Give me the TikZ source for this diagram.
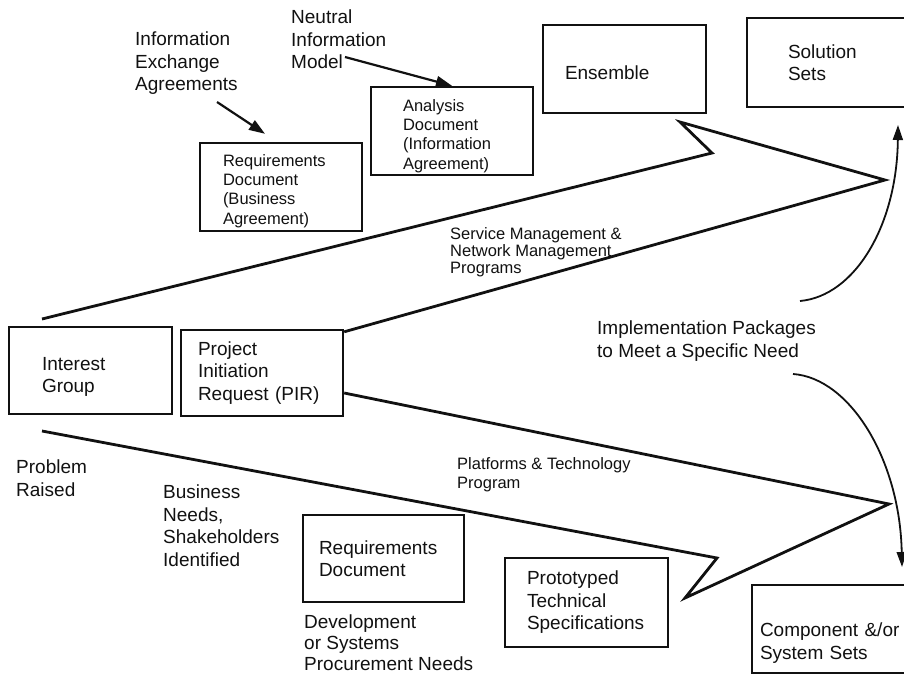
\documentclass[tikz,border=0pt]{standalone}
\usepackage{fontspec}
\setmainfont{Liberation Sans}
\usepackage{xcolor}
\usepackage{tikz}
\usetikzlibrary{arrows.meta, calc, positioning}
\definecolor{Ink}{HTML}{111111}
\newcommand{\bigtxt}{\fontsize{19}{22.5}\selectfont}
\newcommand{\smalltxt}{\fontsize{16.5}{19.3}\selectfont}
\newcommand{\lift}[1]{\rule{0pt}{#1}}
\tikzset{
  box/.style={draw=Ink, line width=2.4pt, minimum height=88pt, align=left, text=Ink, font=\bigtxt, inner ysep=0pt},
  smallbox/.style={box, font=\smalltxt},
  note/.style={text=Ink, font=\bigtxt, align=left, anchor=north west, inner sep=0pt},
  smallnote/.style={note, font=\smalltxt},
  flow/.style={draw=Ink, line width=2.8pt, line join=miter},
  curvearrow/.style={-{Triangle[length=15pt, width=10pt]}, line width=1.8pt, color=Ink},
  ptr/.style={-{Triangle[length=16pt, width=11pt]}, line width=2.2pt, color=Ink},
}

\begin{document}
\begin{tikzpicture}[x=1pt, y=-1pt]
  \useasboundingbox (0,0) rectangle (904,677);

  % Boxes along the top
  \node[smallbox, minimum width=162pt, text width=116pt, inner xsep=23pt] (reqbiz) at (281,187)
    {\lift{20pt}Requirements\\Document\\(Business\\Agreement)};
  \node[smallbox, minimum width=162pt, text width=98pt, inner xsep=32pt] (analysis) at (452,131)
    {\lift{22pt}Analysis\\Document\\(Information\\Agreement)};
  \node[box, minimum width=163pt, text width=119pt, inner xsep=22pt] (ensemble) at (624.5,69)
    {\lift{22pt}Ensemble};
  \node[box, minimum width=163pt, minimum height=89pt, text width=81pt, inner xsep=41pt] (solution) at (828.5,62.5)
    {Solution\\Sets};

  % Boxes on the left
  \node[box, minimum width=163pt, minimum height=87pt, text width=97pt, inner xsep=33pt] (interest) at (90.5,370.5)
    {\lift{26pt}Interest\\Group};
  \node[box, minimum width=162pt, minimum height=86pt, text width=128pt, inner xsep=17pt] (pir) at (262,373)
    {Project\\Initiation\\Request (PIR)};

  % Boxes along the bottom
  \node[box, minimum width=161pt, minimum height=87pt, text width=129pt, inner xsep=16pt] (reqdoc) at (383.5,558.5)
    {Requirements\\Document};
  \node[box, minimum width=163pt, minimum height=89pt, text width=119pt, inner xsep=22pt] (proto) at (586.5,602.5)
    {Prototyped\\Technical\\Specifications};
  \node[box, minimum width=163pt, text width=147pt, inner xsep=8pt] (component) at (833.5,629)
    {\lift{42pt}Component \&/or\\System Sets};

  % Free text
  \node[note] (infoexch) at (135,32) {Information\\Exchange\\Agreements};
  \node[note] (neutral) at (291,10) {Neutral\\Information\\Model};
  \node[smallnote, font=\fontsize{16.5}{17}\selectfont] (svcmgmt) at (450,227) {Service Management \&\\Network Management\\Programs};
  \node[note] (implpkg) at (597,321) {Implementation Packages\\to Meet a Specific Need};
  \node[smallnote] (platforms) at (457,457) {Platforms \& Technology\\Program};
  \node[note] (problem) at (16,460) {Problem\\Raised};
  \node[note] (business) at (163,485) {Business\\Needs,\\Shakeholders\\Identified};
  \node[note, font=\fontsize{19}{21}\selectfont] (devneeds) at (304,615) {Development\\or Systems\\Procurement Needs};

  % Upper broad arrow
  \coordinate (upstart) at (42,319);
  \coordinate (upnotch) at (712,153);
  \coordinate (upbarb) at (680,122);
  \coordinate (uptip) at (885,180);
  \draw[flow] (upstart) -- (upnotch) -- (upbarb) -- (uptip) -- ($(pir.north east)+(0,3)$);

  % Lower broad arrow
  \coordinate (lowstart) at (42,431);
  \coordinate (lownotch) at (717,558);
  \coordinate (lowbarb) at (685,598);
  \coordinate (lowtip) at (889,504);
  \draw[flow] (lowstart) -- (lownotch) -- (lowbarb) -- (lowtip) -- ($(pir.east)+(0,20)$);

  % Pointers from the notes
  \coordinate (agrtail) at (217,102);
  \draw[ptr] (agrtail) -- ($(reqbiz.north)+(-16,-8)$);
  \coordinate (modeltail) at (345,57);
  \draw[ptr] (modeltail) -- (analysis.north);

  % Curved arrows to the sets
  \coordinate (solfrom) at (800,301);
  \coordinate (solto) at (898,125);
  \draw[curvearrow] (solfrom) .. controls (855,296) and (897,225) .. (solto);
  \coordinate (compfrom) at (793,374);
  \coordinate (compto) at (902,567);
  \draw[curvearrow] (compfrom) .. controls (850,378) and (900,460) .. (compto);
\end{tikzpicture}
\end{document}
